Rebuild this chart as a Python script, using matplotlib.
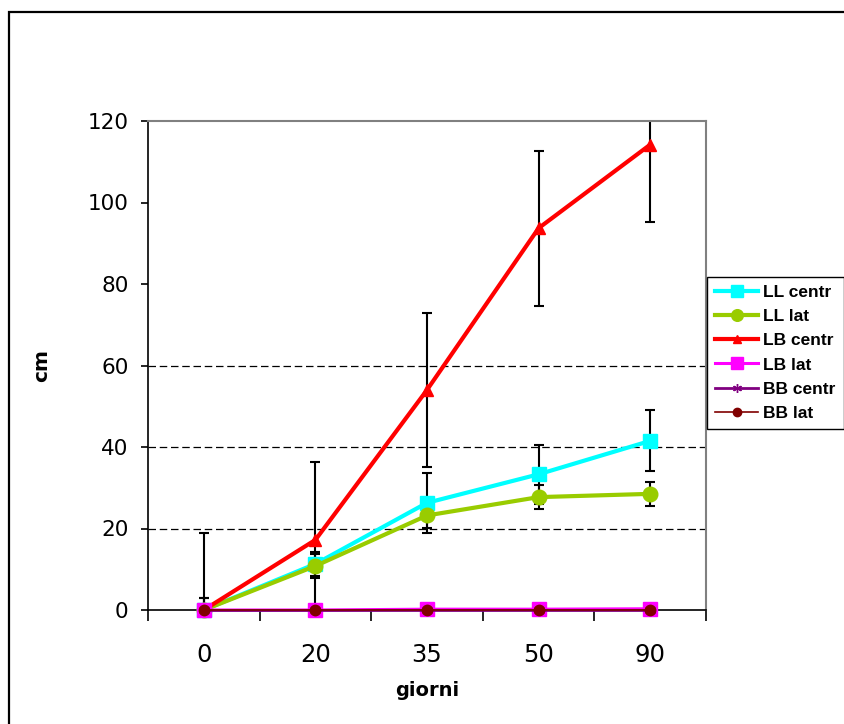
import matplotlib
matplotlib.use("Agg")
import matplotlib.pyplot as plt
from matplotlib.patches import Rectangle

# ---- data ----
categories = ["0", "20", "35", "50", "90"]
ll_centr = [0, 11.3, 26.3, 33.3, 41.5]
ll_centr_err = [3, 3, 7.4, 7.3, 7.5]
ll_lat = [0, 10.8, 23.2, 27.7, 28.5]
ll_lat_err = [3, 3, 3, 3, 3]
lb_centr = [0, 17.2, 54.0, 93.7, 114.2]
lb_centr_err = [19, 19, 19, 19, 19]
lb_lat = [0, 0, 0.2, 0.2, 0.3]
bb_centr = [0, 0, 0, 0, 0]
bb_lat = [0, 0, 0, 0, 0]
y_ticks = [0, 20, 40, 60, 80, 100, 120]
grid_values = [20, 40, 60]

W, H = 844, 724
fig = plt.figure(figsize=(W / 100, H / 100), dpi=100)
fig.patch.set_facecolor("white")

# figure frame (clipped at right/bottom like reference)
fig.patches.append(Rectangle((9 / W, -0.05), 1.2, (H - 12) / H + 0.05,
                             transform=fig.transFigure, fill=False,
                             edgecolor="black", linewidth=1.6))

ax = fig.add_axes([148 / W, (H - 610) / H, (706 - 148) / W, (610 - 121) / H])
x = list(range(len(categories)))

series = [
    ("LL centr", ll_centr, ll_centr_err, "#00FFFF", "s", 10, 3.0, "#00FFFF"),
    ("LL lat", ll_lat, ll_lat_err, "#99CC00", "o", 10.5, 3.0, "#99CC00"),
    ("LB centr", lb_centr, lb_centr_err, "#FF0000", "^", 8, 3.0, "#FF0000"),
    ("LB lat", lb_lat, None, "#FF00FF", "s", 10, 2.2, "#FF00FF"),
    ("BB centr", bb_centr, None, "#800080", (6, 2, 0), 8, 2.0, "#800080"),
    ("BB lat", bb_lat, None, "#800000", "o", 7.5, 1.2, "#800000"),
]

for name, vals, err, col, mk, ms, lw, mc in series:
    if err is not None:
        ax.errorbar(x, vals, yerr=err, fmt="none", ecolor="black",
                    elinewidth=1.5, capsize=3.8, capthick=1.5, zorder=2)

handles = []
for i, (name, vals, err, col, mk, ms, lw, mc) in enumerate(series):
    h, = ax.plot(x, vals, color=col, linewidth=lw, marker=mk, markersize=ms,
                 markerfacecolor=mc, markeredgecolor=mc, clip_on=False,
                 zorder=3 + i, label=name)
    handles.append(h)

for g in grid_values:
    ax.axhline(g, color="black", linewidth=0.9, linestyle=(0, (6, 3)), zorder=1)

ax.set_xlim(-0.5, len(categories) - 0.5)
ax.set_ylim(0, 120)
ax.set_yticks(y_ticks)
ax.set_yticklabels([str(v) for v in y_ticks], fontsize=15.5, family="DejaVu Sans")
ax.set_xticks(x)
ax.set_xticklabels(categories, fontsize=17.5, family="DejaVu Sans")
ax.set_xticks([i - 0.5 for i in range(len(categories) + 1)], minor=True)
ax.tick_params(axis="x", which="major", length=0, pad=24)
ax.tick_params(axis="x", which="minor", length=8, width=1.2, direction="out", color="black")
ax.tick_params(axis="y", length=5, width=1.2, direction="out", pad=9)

for s in ("top", "right"):
    ax.spines[s].set_color("#808080")
    ax.spines[s].set_linewidth(1.5)
for s in ("left", "bottom"):
    ax.spines[s].set_color("black")
    ax.spines[s].set_linewidth(1.2)

ax.set_xlabel("giorni", fontsize=14, fontweight="bold", family="DejaVu Sans", labelpad=10)
ax.set_ylabel("cm", fontsize=14.5, fontweight="bold", family="DejaVu Sans", labelpad=26)

leg = fig.legend(handles=handles, loc="upper left",
                 bbox_to_anchor=(707 / W, (H - 277) / H),
                 frameon=True, fancybox=False, edgecolor="black", framealpha=1,
                 prop={"family": "Liberation Sans", "weight": "bold", "size": 12.5},
                 handlelength=2.5, handletextpad=0.3, labelspacing=0.52,
                 borderpad=0.45, borderaxespad=0, markerscale=0.8)
leg.get_frame().set_linewidth(1.0)

fig.savefig("out.png", dpi=100)
